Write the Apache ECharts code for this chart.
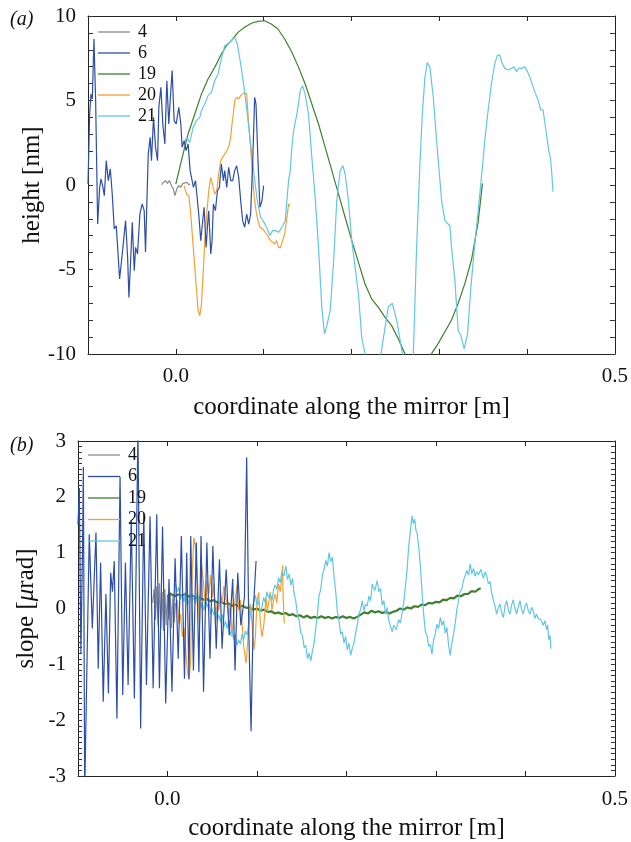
<!DOCTYPE html>
<html>
<head>
<meta charset="utf-8">
<script src="https://cdn.jsdelivr.net/npm/echarts@6/dist/echarts.min.js"></script>
<style>
  html, body { margin: 0; padding: 0; background: #fff; }
  #chart { width: 631px; height: 842px; }
</style>
</head>
<body>
<div id="chart"></div>
<script>
// tick labels that are printed (other ticks stay unlabelled)
const xLabelValues = [0.0, 0.5];
const heightLabelValues = [-10, -5, 0, 5, 10];
const slopeLabelValues = [-3, -2, -1, 0, 1, 2, 3];
const seriesNames = ["4", "6", "19", "20", "21"];
const seriesColors = ["#8a8a8a", "#2d4ea8", "#3f7f2e", "#f5a033", "#62c6e2"];

// (a) height [nm] vs coordinate [m]
const height4 = [[-0.0163,0.02],[-0.0140,0.16],[-0.0117,0.26],[-0.0095,0.10],[-0.0072,0.26],[-0.0049,-0.04],[-0.0027,-0.24],[-0.0011,-0.63],[0.0011,-0.24],[0.0034,-0.04],[0.0057,-0.14],[0.0080,0.10],[0.0102,0.06],[0.0125,0.16],[0.0148,0.02],[0.0163,0.06]];
const height6 = [[-0.1000,0.06],[-0.0981,4.20],[-0.0966,5.38],[-0.0951,5.09],[-0.0932,8.64],[-0.0913,4.99],[-0.0890,-2.31],[-0.0867,-0.14],[-0.0852,0.36],[-0.0830,-0.14],[-0.0814,-0.63],[-0.0792,1.44],[-0.0769,0.26],[-0.0746,0.95],[-0.0724,-0.53],[-0.0701,-2.60],[-0.0678,-2.41],[-0.0640,-5.56],[-0.0610,-4.08],[-0.0572,-2.11],[-0.0549,-4.28],[-0.0534,-6.65],[-0.0511,-4.08],[-0.0496,-2.21],[-0.0473,-5.07],[-0.0458,-3.69],[-0.0436,-4.08],[-0.0409,-1.72],[-0.0383,-1.12],[-0.0360,-1.52],[-0.0345,-3.98],[-0.0314,1.83],[-0.0292,2.82],[-0.0277,1.44],[-0.0254,4.00],[-0.0231,2.23],[-0.0208,1.44],[-0.0193,4.60],[-0.0170,5.78],[-0.0148,3.61],[-0.0125,2.43],[-0.0102,6.17],[-0.0080,3.61],[-0.0057,5.58],[-0.0042,6.77],[-0.0019,3.81],[0.0004,3.61],[0.0034,4.60],[0.0057,3.61],[0.0072,2.23],[0.0095,2.62],[0.0117,2.03],[0.0140,2.43],[0.0163,0.85],[0.0178,0.85],[0.0201,-0.14],[0.0224,0.26],[0.0239,-0.53],[0.0261,-1.72],[0.0284,-3.29],[0.0299,-2.50],[0.0322,-1.32],[0.0345,-3.69],[0.0360,-2.50],[0.0375,-1.52],[0.0398,-4.08],[0.0413,-3.29],[0.0428,-1.12],[0.0451,-1.52],[0.0474,-0.34],[0.0496,-0.14],[0.0519,1.24],[0.0542,0.26],[0.0557,0.85],[0.0580,-0.14],[0.0602,1.05],[0.0625,0.26],[0.0648,0.26],[0.0670,0.85],[0.0693,1.14],[0.0716,0.45],[0.0739,-0.93],[0.0761,-2.11],[0.0784,-2.50],[0.0807,-1.72],[0.0830,-2.31],[0.0852,-1.72],[0.0875,1.24],[0.0898,5.19],[0.0913,4.79],[0.0936,1.44],[0.0958,-1.32],[0.0981,-0.93],[0.1000,-0.04]];
const height19 = [[0.0000,0.06],[0.0064,1.44],[0.0140,3.02],[0.0216,4.20],[0.0292,5.38],[0.0367,6.27],[0.0443,6.96],[0.0519,7.75],[0.0576,8.24],[0.0633,8.54],[0.0708,9.03],[0.0784,9.33],[0.0860,9.57],[0.0936,9.68],[0.1011,9.72],[0.1087,9.53],[0.1163,9.23],[0.1239,8.64],[0.1322,7.85],[0.1398,6.96],[0.1473,5.98],[0.1549,4.79],[0.1625,3.61],[0.1701,2.23],[0.1777,0.85],[0.1852,-0.53],[0.1928,-1.91],[0.2004,-3.29],[0.2080,-4.58],[0.2155,-5.86],[0.2231,-6.75],[0.2307,-7.24],[0.2383,-7.83],[0.2458,-8.32],[0.2534,-9.11],[0.2610,-10.0],[0.2680,-10.4],[0.2760,-10.5],[0.2840,-10.35],[0.2913,-9.98],[0.2989,-9.37],[0.3064,-8.68],[0.3140,-7.99],[0.3216,-7.00],[0.3292,-5.82],[0.3367,-4.44],[0.3443,-2.20],[0.3492,0.10]];
const height20 = [[0.0095,-0.04],[0.0121,-0.53],[0.0148,-0.63],[0.0170,-1.72],[0.0193,-3.29],[0.0216,-4.87],[0.0239,-6.45],[0.0254,-7.44],[0.0273,-7.73],[0.0292,-7.04],[0.0311,-5.27],[0.0330,-3.29],[0.0352,-1.72],[0.0375,-0.34],[0.0398,0.45],[0.0420,0.36],[0.0443,-0.53],[0.0466,-0.34],[0.0489,0.65],[0.0511,1.44],[0.0534,1.64],[0.0557,1.83],[0.0580,2.03],[0.0602,2.23],[0.0625,2.82],[0.0640,3.61],[0.0655,4.20],[0.0670,4.99],[0.0693,5.19],[0.0716,5.09],[0.0739,5.29],[0.0761,5.38],[0.0784,5.48],[0.0807,5.38],[0.0822,4.20],[0.0845,2.62],[0.0867,1.05],[0.0890,-0.53],[0.0913,-1.52],[0.0936,-2.11],[0.0958,-2.50],[0.0989,-2.60],[0.1011,-2.50],[0.1034,-2.90],[0.1057,-3.10],[0.1080,-3.29],[0.1102,-3.39],[0.1125,-3.49],[0.1148,-3.29],[0.1170,-3.69],[0.1193,-3.69],[0.1216,-3.29],[0.1239,-2.90],[0.1261,-2.11],[0.1284,-1.12],[0.1299,-1.26]];
const height21 = [[0.0102,2.43],[0.0121,2.82],[0.0159,2.52],[0.0197,3.41],[0.0235,3.81],[0.0273,4.00],[0.0292,4.40],[0.0330,4.79],[0.0367,5.29],[0.0405,5.48],[0.0443,6.17],[0.0481,6.57],[0.0519,7.46],[0.0557,8.24],[0.0595,8.34],[0.0633,8.54],[0.0670,8.74],[0.0701,8.34],[0.0739,7.16],[0.0777,5.78],[0.0814,4.20],[0.0852,2.43],[0.0890,0.65],[0.0928,-0.93],[0.0966,-1.91],[0.1004,-2.21],[0.1042,-2.60],[0.1072,-3.00],[0.1102,-2.70],[0.1133,-2.70],[0.1170,-2.80],[0.1208,-2.50],[0.1246,-2.11],[0.1265,-0.93],[0.1284,0.26],[0.1303,0.85],[0.1322,2.23],[0.1341,3.21],[0.1379,4.20],[0.1417,5.58],[0.1443,5.88],[0.1473,5.38],[0.1511,4.20],[0.1549,1.64],[0.1587,-0.73],[0.1625,-3.69],[0.1663,-7.24],[0.1693,-8.82],[0.1720,-8.32],[0.1758,-7.44],[0.1795,-4.67],[0.1833,-0.93],[0.1871,0.85],[0.1902,1.14],[0.1928,0.65],[0.1966,-0.93],[0.2004,-3.29],[0.2042,-4.87],[0.2080,-6.45],[0.2117,-9.01],[0.2155,-10.0],[0.2220,-10.8],[0.2280,-10.6],[0.2337,-9.96],[0.2420,-7.20],[0.2466,-7.00],[0.2515,-7.99],[0.2580,-9.98],[0.2640,-10.7],[0.2705,-10.0],[0.2742,-3.69],[0.2780,1.24],[0.2807,4.20],[0.2837,6.37],[0.2864,7.25],[0.2894,6.96],[0.2932,5.19],[0.2970,2.62],[0.3027,-0.93],[0.3064,-2.11],[0.3121,-2.41],[0.3140,-3.69],[0.3178,-5.66],[0.3216,-8.62],[0.3246,-8.91],[0.3284,-9.70],[0.3322,-8.82],[0.3360,-6.06],[0.3405,-3.49],[0.3443,-1.52],[0.3492,1.08],[0.3519,2.66],[0.3557,4.44],[0.3595,6.02],[0.3633,7.20],[0.3663,7.69],[0.3689,7.69],[0.3716,7.20],[0.3746,6.90],[0.3784,6.80],[0.3822,6.90],[0.3852,7.00],[0.3879,6.71],[0.3905,6.90],[0.3936,6.90],[0.3973,7.00],[0.4004,6.71],[0.4030,6.41],[0.4068,5.82],[0.4095,5.42],[0.4125,5.03],[0.4155,4.44],[0.4182,4.44],[0.4220,3.06],[0.4246,2.07],[0.4269,1.48],[0.4284,0.49],[0.4295,-0.39]];

// (b) slope [µrad] vs coordinate [m]
const slope4 = [[-0.0165,0.10],[-0.0150,0.35],[-0.0135,-0.20],[-0.0120,0.40],[-0.0105,-0.30],[-0.0090,0.45],[-0.0075,-0.35],[-0.0060,0.30],[-0.0045,-0.40],[-0.0030,0.35],[-0.0015,-0.30],[0.0000,0.25],[0.0015,-0.20],[0.0030,0.30],[0.0045,-0.35],[0.0060,0.20],[0.0075,-0.25],[0.0090,0.10]];
const slope6 = [[-0.1000,1.50],[-0.0985,2.16],[-0.0968,-0.80],[-0.0950,1.00],[-0.0940,2.54],[-0.0925,-3.30],[-0.0905,-3.30],[-0.0874,1.33],[-0.0840,-0.36],[-0.0810,0.90],[-0.0799,1.36],[-0.0774,-1.08],[-0.0747,0.82],[-0.0718,-1.67],[-0.0688,0.26],[-0.0660,-1.52],[-0.0635,0.64],[-0.0615,0.30],[-0.0595,0.85],[-0.0565,-1.97],[-0.0530,2.36],[-0.0500,-1.55],[-0.0470,0.82],[-0.0440,-1.37],[-0.0405,1.59],[-0.0370,-1.61],[-0.0330,3.20],[-0.0300,-2.15],[-0.0265,1.71],[-0.0235,-1.37],[-0.0195,1.65],[-0.0160,-1.43],[-0.0120,1.69],[-0.0090,-1.43],[-0.0055,1.47],[-0.0020,-1.70],[0.0017,0.53],[0.0050,-1.49],[0.0085,0.90],[0.0120,-0.90],[0.0155,1.30],[0.0190,-1.26],[0.0215,1.00],[0.0240,-1.26],[0.0260,1.30],[0.0290,-1.11],[0.0322,1.18],[0.0351,-1.14],[0.0375,1.30],[0.0403,-1.49],[0.0440,1.18],[0.0475,-0.90],[0.0507,1.12],[0.0545,-0.72],[0.0581,0.88],[0.0610,-0.72],[0.0656,0.70],[0.0690,-0.48],[0.0729,0.53],[0.0755,-1.11],[0.0785,0.64],[0.0820,-0.30],[0.0860,0.20],[0.0885,2.71],[0.0910,-0.50],[0.0934,-2.20],[0.0960,0.00],[0.0990,0.85]];
const slope19 = [[0.000,0.22],[0.004,0.26],[0.008,0.22],[0.012,0.25],[0.016,0.23],[0.020,0.26],[0.024,0.21],[0.028,0.23],[0.032,0.18],[0.036,0.20],[0.040,0.16],[0.044,0.17],[0.048,0.13],[0.052,0.15],[0.056,0.10],[0.060,0.12],[0.064,0.08],[0.068,0.09],[0.072,0.05],[0.076,0.07],[0.080,0.03],[0.084,0.05],[0.088,0.01],[0.092,0.02],[0.096,-0.02],[0.100,0.00],[0.104,-0.04],[0.108,-0.02],[0.112,-0.06],[0.116,-0.05],[0.120,-0.09],[0.124,-0.07],[0.128,-0.10],[0.132,-0.08],[0.136,-0.12],[0.140,-0.10],[0.144,-0.14],[0.148,-0.12],[0.152,-0.16],[0.156,-0.13],[0.160,-0.17],[0.164,-0.15],[0.168,-0.17],[0.172,-0.14],[0.176,-0.17],[0.180,-0.15],[0.184,-0.18],[0.188,-0.15],[0.192,-0.17],[0.196,-0.14],[0.200,-0.17],[0.204,-0.15],[0.208,-0.18],[0.212,-0.15],[0.216,-0.11],[0.220,-0.07],[0.224,-0.09],[0.228,-0.04],[0.232,-0.07],[0.236,-0.05],[0.240,-0.08],[0.244,-0.06],[0.248,-0.09],[0.252,-0.06],[0.256,-0.04],[0.260,0.00],[0.264,-0.02],[0.268,0.02],[0.272,0.00],[0.276,0.04],[0.280,0.03],[0.284,0.07],[0.288,0.06],[0.292,0.10],[0.296,0.09],[0.300,0.12],[0.304,0.11],[0.308,0.16],[0.312,0.15],[0.316,0.19],[0.320,0.18],[0.324,0.23],[0.328,0.22],[0.332,0.26],[0.336,0.26],[0.340,0.31],[0.344,0.30],[0.348,0.35],[0.350,0.36]];
const slope20 = [[0.0091,-0.03],[0.0110,0.15],[0.0128,-0.27],[0.0147,-0.10],[0.0166,-0.51],[0.0185,-0.35],[0.0203,-0.74],[0.0221,-1.10],[0.0240,-1.28],[0.0258,-0.98],[0.0277,0.68],[0.0295,1.27],[0.0314,1.09],[0.0333,0.56],[0.0358,-0.27],[0.0381,0.80],[0.0407,0.38],[0.0425,-0.03],[0.0444,0.50],[0.0462,0.26],[0.0481,0.60],[0.0500,0.20],[0.0518,0.45],[0.0537,-0.27],[0.0555,0.10],[0.0574,-0.03],[0.0592,0.30],[0.0611,0.09],[0.0630,0.40],[0.0648,0.26],[0.0666,0.05],[0.0685,-0.15],[0.0703,0.10],[0.0722,-0.51],[0.0740,-0.10],[0.0759,0.20],[0.0778,0.40],[0.0796,-0.03],[0.0815,0.15],[0.0833,-0.27],[0.0852,-0.68],[0.0878,-0.98],[0.0900,-0.51],[0.0923,0.09],[0.0945,-0.27],[0.0967,-0.74],[0.0982,-0.51],[0.1000,0.11],[0.1019,0.29],[0.1037,-0.24],[0.1056,-0.51],[0.1078,-0.27],[0.1101,0.20],[0.1115,-0.05],[0.1130,0.09],[0.1150,0.30],[0.1168,-0.03],[0.1186,0.15],[0.1204,0.26],[0.1222,0.10],[0.1242,0.44],[0.1260,0.30],[0.1279,0.56],[0.1286,0.77],[0.1293,0.20],[0.1305,-0.27]];
const slope21 = [[0.0091,0.44],[0.0110,0.30],[0.0128,0.38],[0.0147,0.16],[0.0166,0.26],[0.0185,0.12],[0.0203,0.30],[0.0222,0.05],[0.0240,0.14],[0.0259,0.26],[0.0277,0.12],[0.0296,0.22],[0.0314,0.08],[0.0332,0.28],[0.0350,0.18],[0.0369,0.00],[0.0388,0.10],[0.0406,-0.04],[0.0425,0.18],[0.0443,0.02],[0.0462,0.12],[0.0481,-0.10],[0.0500,0.00],[0.0518,-0.12],[0.0537,0.02],[0.0555,-0.22],[0.0574,-0.12],[0.0592,-0.24],[0.0611,-0.10],[0.0630,-0.34],[0.0648,-0.22],[0.0666,-0.36],[0.0685,-0.22],[0.0703,-0.48],[0.0722,-0.38],[0.0740,-0.56],[0.0759,-0.46],[0.0778,-0.66],[0.0796,-0.56],[0.0815,-0.64],[0.0833,-0.46],[0.0852,-0.56],[0.0870,-0.40],[0.0889,-0.48],[0.0908,-0.28],[0.0926,-0.12],[0.0945,0.02],[0.0963,0.12],[0.0982,0.24],[0.1000,0.06],[0.1019,0.14],[0.1037,-0.06],[0.1056,0.02],[0.1074,0.20],[0.1093,0.10],[0.1111,0.30],[0.1130,0.20],[0.1149,0.26],[0.1168,0.14],[0.1186,0.34],[0.1204,0.42],[0.1223,0.34],[0.1242,0.55],[0.1260,0.46],[0.1279,0.66],[0.1300,0.58],[0.1323,0.76],[0.1341,0.52],[0.1360,0.62],[0.1378,0.42],[0.1397,0.54],[0.1416,0.26],[0.1435,0.12],[0.1453,-0.12],[0.1472,-0.22],[0.1490,-0.44],[0.1509,-0.48],[0.1528,-0.70],[0.1546,-0.66],[0.1565,-0.90],[0.1583,-0.80],[0.1602,-0.94],[0.1620,-0.76],[0.1639,-0.62],[0.1657,-0.34],[0.1676,-0.10],[0.1694,0.24],[0.1713,0.34],[0.1731,0.60],[0.1750,0.70],[0.1769,0.86],[0.1787,0.76],[0.1806,1.00],[0.1825,0.84],[0.1843,0.92],[0.1862,0.56],[0.1880,0.30],[0.1899,-0.06],[0.1917,-0.22],[0.1936,-0.46],[0.1954,-0.42],[0.1973,-0.62],[0.1991,-0.50],[0.2010,-0.74],[0.2028,-0.62],[0.2047,-0.84],[0.2065,-0.72],[0.2084,-0.62],[0.2102,-0.44],[0.2121,-0.30],[0.2139,-0.10],[0.2158,-0.02],[0.2177,0.14],[0.2195,-0.04],[0.2214,0.08],[0.2232,0.04],[0.2251,0.22],[0.2270,0.14],[0.2288,0.44],[0.2316,0.32],[0.2344,0.50],[0.2362,0.30],[0.2381,0.36],[0.2400,0.06],[0.2418,0.14],[0.2437,-0.10],[0.2455,0.02],[0.2474,-0.22],[0.2492,-0.20],[0.2511,-0.42],[0.2529,-0.30],[0.2557,-0.38],[0.2585,-0.20],[0.2603,-0.26],[0.2622,-0.08],[0.2640,0.10],[0.2659,0.40],[0.2678,0.70],[0.2696,1.12],[0.2715,1.40],[0.2733,1.66],[0.2748,1.52],[0.2763,1.60],[0.2776,1.40],[0.2789,1.36],[0.2808,1.10],[0.2826,0.76],[0.2845,0.30],[0.2863,-0.10],[0.2882,-0.42],[0.2900,-0.48],[0.2919,-0.68],[0.2937,-0.64],[0.2956,-0.82],[0.2974,-0.56],[0.2993,-0.46],[0.3012,-0.28],[0.3030,-0.36],[0.3049,-0.16],[0.3068,-0.30],[0.3086,-0.22],[0.3105,-0.44],[0.3123,-0.34],[0.3142,-0.66],[0.3160,-0.84],[0.3179,-0.62],[0.3197,-0.46],[0.3216,-0.26],[0.3234,-0.02],[0.3253,0.14],[0.3271,0.30],[0.3290,0.36],[0.3308,0.50],[0.3327,0.48],[0.3346,0.68],[0.3364,0.60],[0.3383,0.80],[0.3401,0.62],[0.3420,0.72],[0.3438,0.58],[0.3457,0.66],[0.3475,0.60],[0.3503,0.70],[0.3531,0.54],[0.3550,0.66],[0.3568,0.58],[0.3587,0.44],[0.3606,0.48],[0.3624,0.28],[0.3642,0.14],[0.3661,0.04],[0.3679,-0.10],[0.3698,0.02],[0.3717,0.08],[0.3735,-0.08],[0.3754,-0.16],[0.3772,0.04],[0.3791,0.14],[0.3810,-0.04],[0.3828,-0.10],[0.3846,0.06],[0.3864,0.16],[0.3883,0.00],[0.3902,-0.10],[0.3921,0.04],[0.3940,0.14],[0.3958,-0.02],[0.3976,-0.10],[0.3995,0.04],[0.4013,0.10],[0.4032,-0.04],[0.4051,-0.10],[0.4070,0.02],[0.4088,-0.04],[0.4106,-0.18],[0.4124,-0.10],[0.4143,-0.18],[0.4171,-0.20],[0.4199,-0.30],[0.4218,-0.22],[0.4236,-0.38],[0.4249,-0.30],[0.4262,-0.56],[0.4275,-0.48],[0.4285,-0.72]];

const heightSeries = [height4, height6, height19, height20, height21];
const slopeSeries = [slope4, slope6, slope19, slope20, slope21];

const FONT = "'Liberation Serif', 'DejaVu Serif', serif";
const INK = "#222";

const chart = echarts.init(document.getElementById("chart"), null, { renderer: "canvas" });

// only print labels listed in the given array; other ticks are bare
function labelOnly(values, digits) {
  return (v) => (values.some((l) => Math.abs(l - v) < 1e-6) ? (digits ? v.toFixed(digits) : String(Math.round(v))) : "");
}

function xAxes(grid, nameGap, labelMargin) {
  const base = {
    gridIndex: grid, type: "value", min: -0.1, max: 0.5, interval: 0.1,
    axisLine: { onZero: false, lineStyle: { color: INK, width: 1 } },
    axisTick: { inside: true, length: 5, lineStyle: { color: INK } },
    splitLine: { show: false },
  };
  return [
    {
      ...base, position: "bottom",
      axisLabel: { formatter: labelOnly(xLabelValues, 1), margin: labelMargin, fontSize: 21, color: "#111", fontFamily: FONT },
      name: "coordinate along the mirror [m]", nameLocation: "middle", nameGap: nameGap,
      nameMoveOverlap: false,
      nameTextStyle: { fontSize: 25, color: "#111", fontFamily: FONT },
    },
    { ...base, position: "top", axisLabel: { show: false } },
  ];
}

// ticks at every step; labels only at the listed values
function yAxes(grid, min, max, step, labels, tickLen, name, nameGap, rich) {
  const base = {
    gridIndex: grid, type: "value", min: min, max: max, interval: step,
    axisLine: { onZero: false, lineStyle: { color: INK, width: 1 } },
    axisTick: { inside: true, length: tickLen, lineStyle: { color: "#333" } },
    splitLine: { show: false },
  };
  return [
    {
      ...base, position: "left",
      axisLabel: { formatter: labelOnly(labels, 0), margin: 12, fontSize: 21, color: "#111", fontFamily: FONT },
      name: name, nameLocation: "middle", nameGap: nameGap,
      nameMoveOverlap: false,
      nameTextStyle: { fontSize: 25, color: "#111", fontFamily: FONT, rich: rich },
    },
    { ...base, position: "right", axisLabel: { show: false } },
  ];
}

function lines(dataSets, grid) {
  return dataSets.map((d, i) => ({
    name: seriesNames[i],
    type: "line",
    xAxisIndex: grid * 2,
    yAxisIndex: grid * 2,
    data: d,
    symbol: "none",
    clip: true,
    z: i === 1 ? 3 : 2,
    lineStyle: { color: seriesColors[i], width: i === 2 && grid === 1 ? 2.2 : 1.2 },
    itemStyle: { color: seriesColors[i] },
  }));
}

function legendAt(left, top, gap) {
  return {
    data: seriesNames,
    orient: "vertical",
    left: left, top: top,
    padding: 0,
    icon: "rect",
    itemWidth: 32, itemHeight: 1.3, itemGap: gap,
    textStyle: { fontSize: 18, color: "#111", fontFamily: FONT, padding: [0, 0, 0, 3] },
    selectedMode: false,
  };
}

const richText = {
  a: { fontSize: 25, fontFamily: FONT, color: "#111" },
  b: { fontSize: 25, fontFamily: FONT, fontStyle: "italic", color: "#111" },
};

const option = {
  animation: false,
  backgroundColor: "#fff",
  grid: [
    { left: 88, top: 16, width: 529, height: 338 },
    { left: 78, top: 441, width: 539, height: 337 },
  ],
  xAxis: [...xAxes(0, 41, 12), ...xAxes(1, 40, 13)],
  yAxis: [
    ...yAxes(0, -10, 10, 1, heightLabelValues, 5, "height [nm]", 43, null),
    ...yAxes(1, -3, 3, 0.1, slopeLabelValues, 4, "{a|slope [}{b|μ}{a|rad]}", 39, richText),
  ],
  legend: [legendAt(98, 23, 3), legendAt(88, 446, 3.5)],
  series: [...lines(heightSeries, 0), ...lines(slopeSeries, 1)],
  graphic: [
    { type: "text", left: 10, top: 10, style: { text: "(a)", font: "italic 20px " + FONT, fill: "#111" } },
    { type: "text", left: 10, top: 436, style: { text: "(b)", font: "italic 20px " + FONT, fill: "#111" } },
  ],
};

chart.setOption(option);
</script>
</body>
</html>
